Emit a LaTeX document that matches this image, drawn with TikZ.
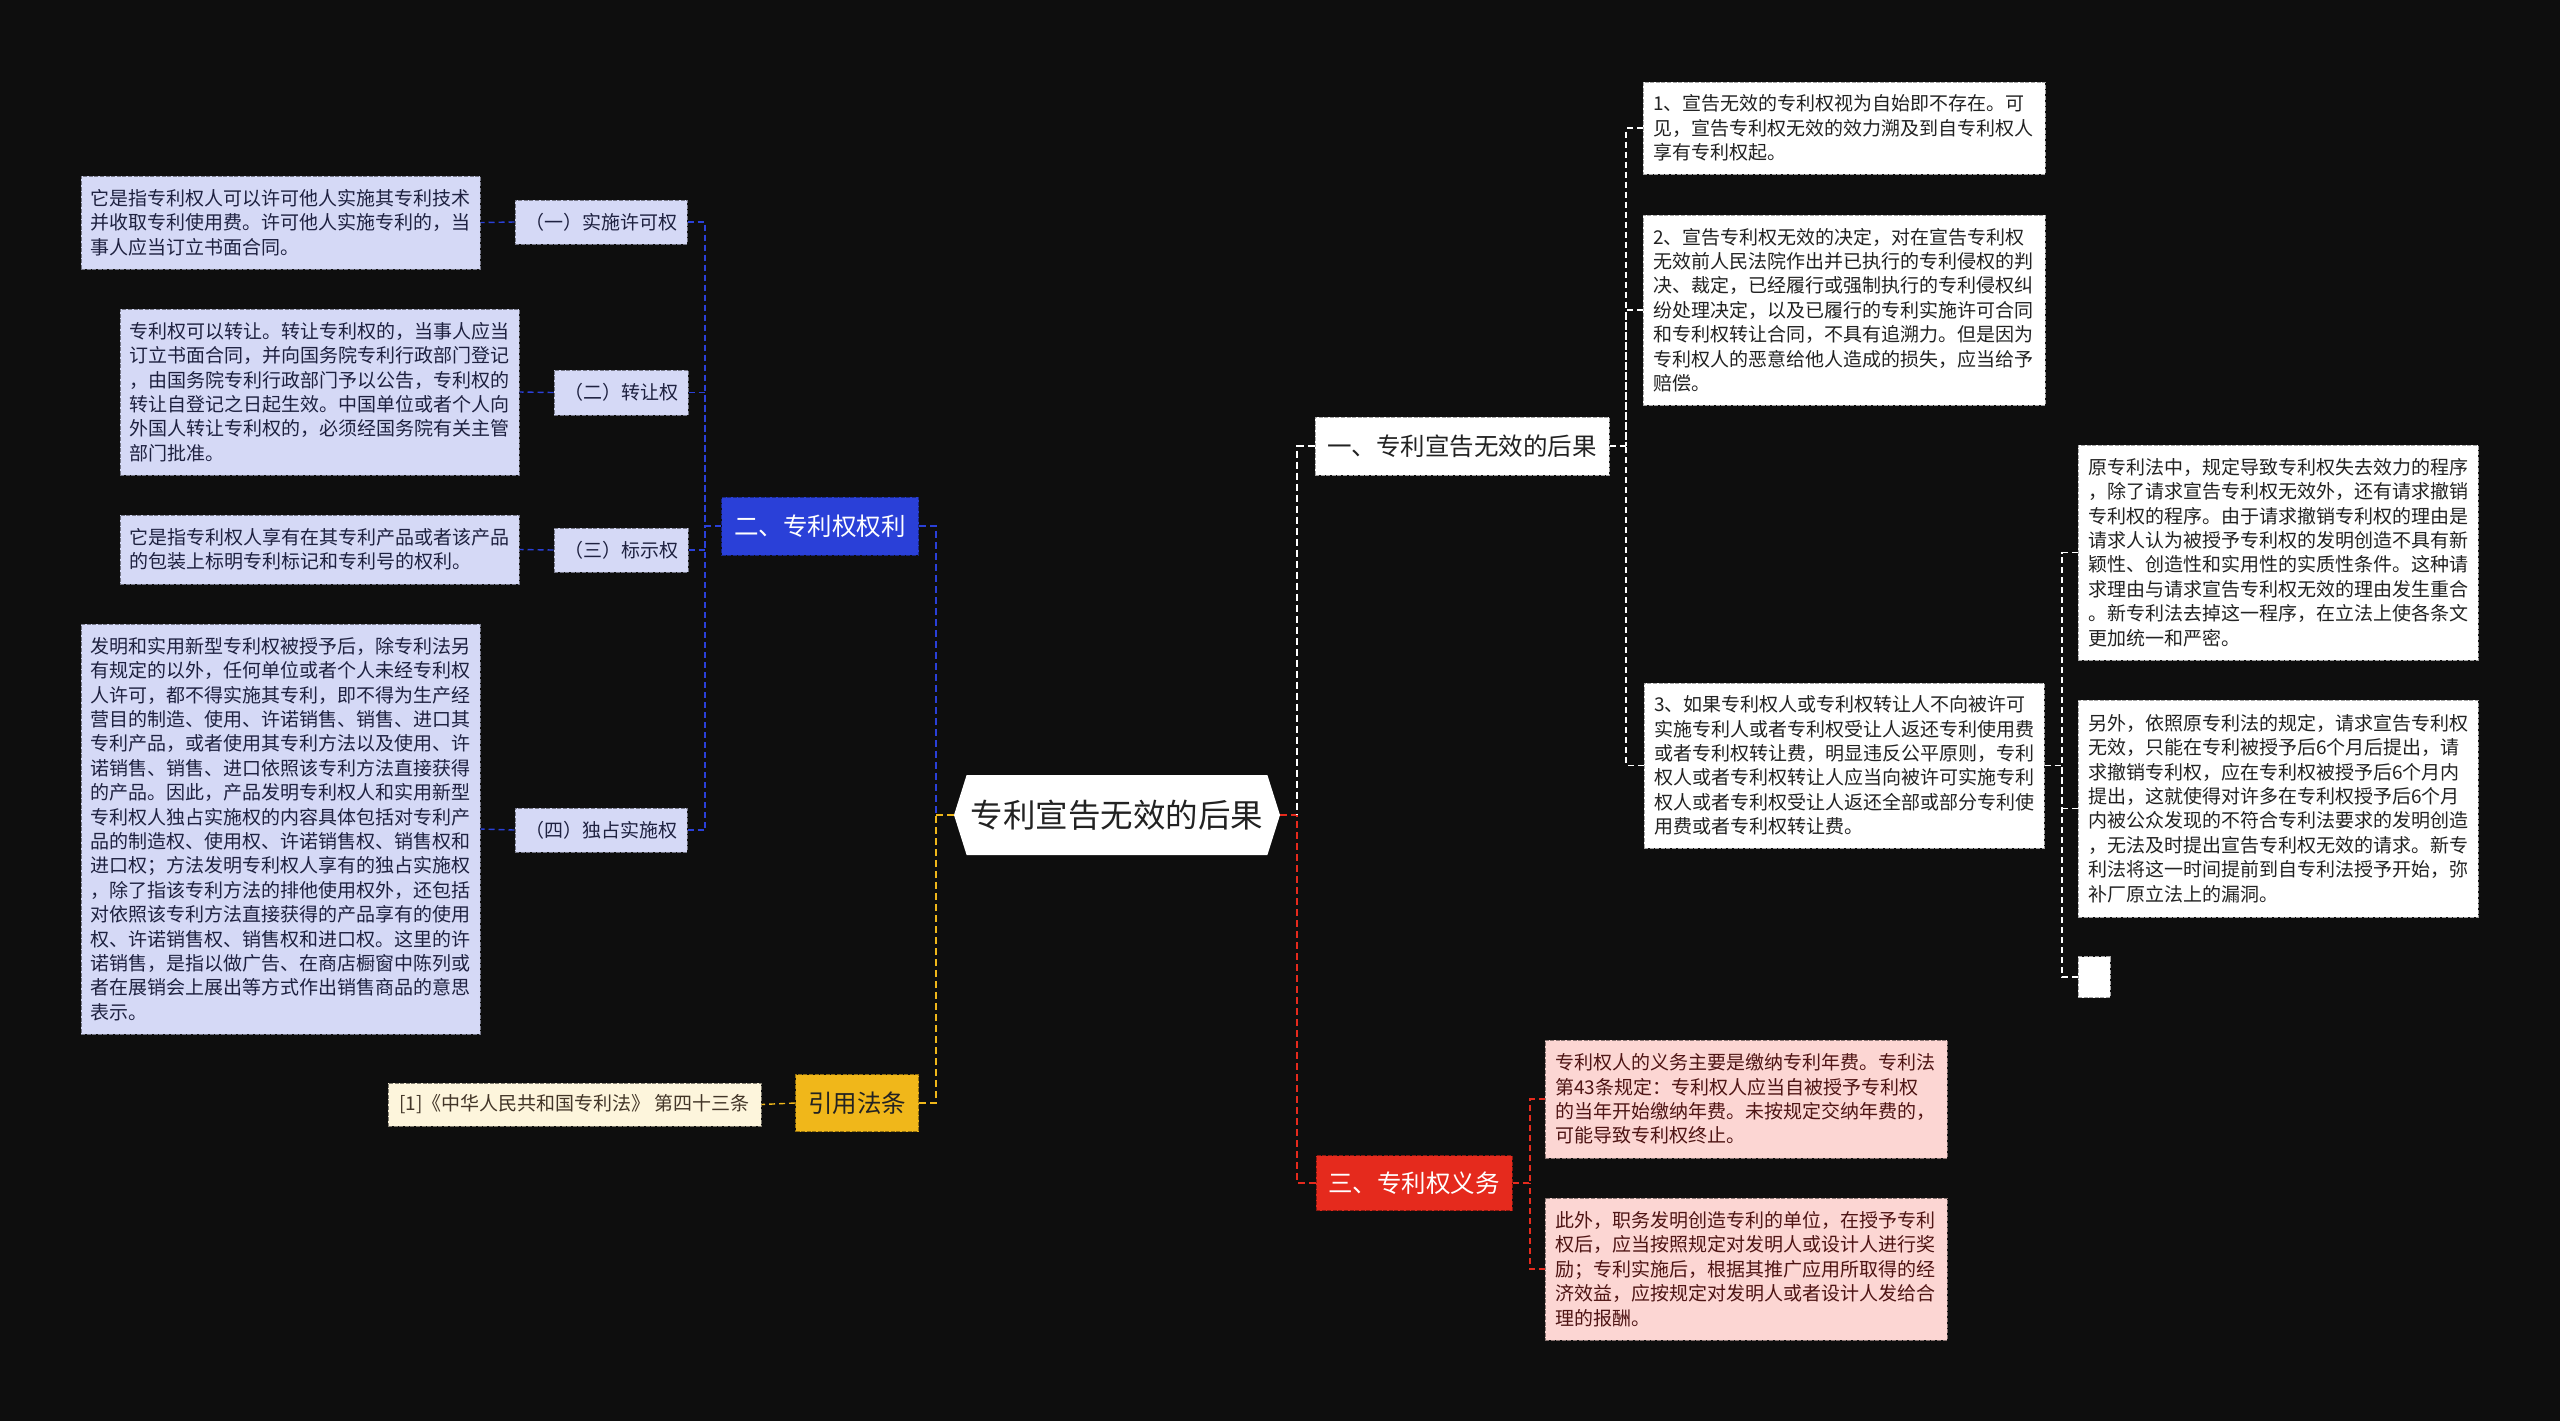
\documentclass[tikz,border=0pt]{standalone}
\usepackage{fontspec}
\setmainfont{Noto Sans CJK SC}
\usetikzlibrary{shapes.symbols}
\definecolor{bg}{HTML}{0E0E0E}
\definecolor{lav}{HTML}{D5D9F6}
\definecolor{lavtext}{HTML}{1E2140}
\definecolor{bluef}{HTML}{2A40D8}
\definecolor{yelf}{HTML}{F0B71A}
\definecolor{cream}{HTML}{FDF5DC}
\definecolor{redf}{HTML}{E52A1D}
\definecolor{pinkf}{HTML}{FCD6D3}
\definecolor{pinktext}{HTML}{4E1414}
\definecolor{dtext}{HTML}{222222}
\tikzset{
  mainline/.style={line width=1pt, dash pattern=on 3.5pt off 2pt},
  subline/.style={line width=0.7pt, dash pattern=on 3pt off 2pt},
  basebox/.style={rectangle, inner ysep=0pt, dash pattern=on 2pt off 0.8pt, line width=0.5pt},
  smallfont/.style={font=\fontsize{9.5pt}{12.2pt}\selectfont},
  branchfont/.style={font=\fontsize{12.25pt}{14pt}\selectfont},
  whitebox/.style={basebox, fill=white, draw=gray!70, text=dtext, smallfont, align=left, inner xsep=5pt},
  lavbox/.style={basebox, fill=lav, draw=lav!55!black, text=lavtext, smallfont, align=left, inner xsep=4.75pt},
  lavlabel/.style={basebox, fill=lav, draw=lav!55!black, text=lavtext, smallfont, align=center, inner xsep=0pt},
  pinkbox/.style={basebox, fill=pinkf, draw=pinkf!55!black, text=pinktext, smallfont, align=left, inner xsep=5pt},
  creambox/.style={basebox, fill=cream, draw=cream!50!black, text=dtext!80!brown, smallfont, align=center, inner xsep=0pt},
  branchbox/.style={basebox, branchfont, align=center, inner xsep=0pt},
}
\begin{document}
\begin{tikzpicture}[x=0.5pt,y=-0.5pt]
\fill[bg] (0,0) rectangle (2560,1421);
\useasboundingbox (0,0) rectangle (2560,1421);

% central
\node[shape=signal, signal to=west and east, signal pointer angle=145, fill=white,
      minimum width=163pt, minimum height=40pt, inner sep=0pt, text=dtext,
      font=\fontsize{16.25pt}{18pt}\selectfont] (center) at (1117,815) {专利宣告无效的后果};

% branches
\node[branchbox, fill=white, draw=gray!70, text=dtext, minimum width=147pt, minimum height=29pt] (b1) at (1462,446) {一、专利宣告无效的后果};
\node[branchbox, fill=redf, draw=redf!60!black, text=white, minimum width=98pt, minimum height=27.5pt] (b3) at (1414,1183) {三、专利权义务};
\node[branchbox, fill=bluef, draw=bluef!60!black, text=white, minimum width=98.5pt, minimum height=29pt] (b2) at (820,526) {二、专利权权利};
\node[branchbox, fill=yelf, draw=yelf!60!black, text=dtext, minimum width=61.5pt, minimum height=28.5pt] (b4) at (857,1103) {引用法条};

% branch 1 children
\node[whitebox, text width=191pt, minimum height=46pt] (w1) at (1844,128) {1、宣告无效的专利权视为自始即不存在。可\\见，宣告专利权无效的效力溯及到自专利权人\\享有专利权起。};
\node[whitebox, text width=191pt, minimum height=95pt] (w2) at (1844,310) {2、宣告专利权无效的决定，对在宣告专利权\\无效前人民法院作出并已执行的专利侵权的判\\决、裁定，已经履行或强制执行的专利侵权纠\\纷处理决定，以及已履行的专利实施许可合同\\和专利权转让合同，不具有追溯力。但是因为\\专利权人的恶意给他人造成的损失，应当给予\\赔偿。};
\node[whitebox, text width=190pt, minimum height=82.5pt] (w3) at (1844,765.5) {3、如果专利权人或专利权转让人不向被许可\\实施专利人或者专利权受让人返还专利使用费\\或者专利权转让费，明显违反公平原则，专利\\权人或者专利权转让人应当向被许可实施专利\\权人或者专利权受让人返还全部或部分专利使\\用费或者专利权转让费。};

% w3 children
\node[whitebox, text width=190pt, minimum height=107.5pt] (w4) at (2278,552.5) {原专利法中，规定导致专利权失去效力的程序\\，除了请求宣告专利权无效外，还有请求撤销\\专利权的程序。由于请求撤销专利权的理由是\\请求人认为被授予专利权的发明创造不具有新\\颖性、创造性和实用性的实质性条件。这种请\\求理由与请求宣告专利权无效的理由发生重合\\。新专利法去掉这一程序，在立法上使各条文\\更加统一和严密。};
\node[whitebox, text width=190pt, minimum height=108.5pt] (w5) at (2278,808.5) {另外，依照原专利法的规定，请求宣告专利权\\无效，只能在专利被授予后6个月后提出，请\\求撤销专利权，应在专利权被授予后6个月内\\提出，这就使得对许多在专利权授予后6个月\\内被公众发现的不符合专利法要求的发明创造\\，无法及时提出宣告专利权无效的请求。新专\\利法将这一时间提前到自专利法授予开始，弥\\补厂原立法上的漏洞。};
\node[basebox, fill=white, draw=gray!70, inner xsep=0pt, minimum width=16pt, minimum height=20.5pt] (w6) at (2094,977) {};

% branch 3 children
\node[pinkbox, text width=191pt, minimum height=59pt] (p1) at (1746,1099) {专利权人的义务主要是缴纳专利年费。专利法\\第43条规定：专利权人应当自被授予专利权\\的当年开始缴纳年费。未按规定交纳年费的，\\可能导致专利权终止。};
\node[pinkbox, text width=191pt, minimum height=71pt] (p2) at (1746,1269) {此外，职务发明创造专利的单位，在授予专利\\权后，应当按照规定对发明人或设计人进行奖\\励；专利实施后，根据其推广应用所取得的经\\济效益，应按规定对发明人或者设计人发给合\\理的报酬。};

% branch 2 children
\node[lavlabel, minimum width=86pt, minimum height=22pt] (l1) at (601,222) {（一）实施许可权};
\node[lavlabel, minimum width=67pt, minimum height=22.5pt] (l2) at (621,392.5) {（二）转让权};
\node[lavlabel, minimum width=67pt, minimum height=22pt] (l3) at (621,550) {（三）标示权};
\node[lavlabel, minimum width=86pt, minimum height=22pt] (l4) at (601,830) {（四）独占实施权};

\node[lavbox, text width=190pt, minimum height=46.5pt] (d1) at (280.5,222.5) {它是指专利权人可以许可他人实施其专利技术\\并收取专利使用费。许可他人实施专利的，当\\事人应当订立书面合同。};
\node[lavbox, text width=190pt, minimum height=83pt] (d2) at (319.5,392) {专利权可以转让。转让专利权的，当事人应当\\订立书面合同，并向国务院专利行政部门登记\\，由国务院专利行政部门予以公告，专利权的\\转让自登记之日起生效。中国单位或者个人向\\外国人转让专利权的，必须经国务院有关主管\\部门批准。};
\node[lavbox, text width=190pt, minimum height=34.5pt] (d3) at (319.5,549.5) {它是指专利权人享有在其专利产品或者该产品\\的包装上标明专利标记和专利号的权利。};
\node[lavbox, text width=190pt, minimum height=205pt] (d4) at (280.5,829) {发明和实用新型专利权被授予后，除专利法另\\有规定的以外，任何单位或者个人未经专利权\\人许可，都不得实施其专利，即不得为生产经\\营目的制造、使用、许诺销售、销售、进口其\\专利产品，或者使用其专利方法以及使用、许\\诺销售、销售、进口依照该专利方法直接获得\\的产品。因此，产品发明专利权人和实用新型\\专利权人独占实施权的内容具体包括对专利产\\品的制造权、使用权、许诺销售权、销售权和\\进口权；方法发明专利权人享有的独占实施权\\，除了指该专利方法的排他使用权外，还包括\\对依照该专利方法直接获得的产品享有的使用\\权、许诺销售权、销售权和进口权。这里的许\\诺销售，是指以做广告、在商店橱窗中陈列或\\者在展销会上展出等方式作出销售商品的意思\\表示。};

% citation child
\node[creambox, minimum width=186.5pt, minimum height=21.5pt] (c1) at (574.5,1104.5) {[1]《中华人民共和国专利法》 第四十三条};

% junctions
\coordinate (jl) at (936,815);
\coordinate (jr) at (1297,815);
\coordinate (j1) at (1626,446);
\coordinate (j3) at (2062,765.5);
\coordinate (j4) at (1530,1183);
\coordinate (j2) at (705,526);

% main connectors
\draw[mainline, yelf] (center.west) -- (jl);
\draw[mainline, yelf] (b4.east) -| (jl);
\draw[mainline, bluef] (b2.east) -| (jl);
\draw[mainline, redf] (center.east) -- (jr);
\draw[mainline, redf] (b3.west) -| (jr);
\draw[mainline, white] (b1.west) -| (jr);

% branch 1 sub connectors
\draw[subline, white] (b1.east) -- (j1);
\draw[subline, white] (w1.west) -| (j1);
\draw[subline, white] (w2.west) -| (j1);
\draw[subline, white] (w3.west) -| (j1);
\draw[subline, white] (w3.east) -- (j3);
\draw[subline, white] (w4.west) -| (j3);
\draw[subline, white] (w5.west) -| (j3);
\draw[subline, white] (w6.west) -| (j3);

% branch 3 sub connectors
\draw[subline, redf] (b3.east) -- (j4);
\draw[subline, redf] (p1.west) -| (j4);
\draw[subline, redf] (p2.west) -| (j4);

% branch 2 sub connectors
\draw[subline, bluef] (b2.west) -- (j2);
\draw[subline, bluef] (l1.east) -| (j2);
\draw[subline, bluef] (l2.east) -| (j2);
\draw[subline, bluef] (l3.east) -| (j2);
\draw[subline, bluef] (l4.east) -| (j2);
\draw[subline, bluef] (l1.west) -- (d1.east);
\draw[subline, bluef] (l2.west) -- (d2.east);
\draw[subline, bluef] (l3.west) -- (d3.east);
\draw[subline, bluef] (l4.west) -- (d4.east);

% citation connector
\draw[subline, yelf] (b4.west) -- (c1.east);
\end{tikzpicture}
\end{document}
